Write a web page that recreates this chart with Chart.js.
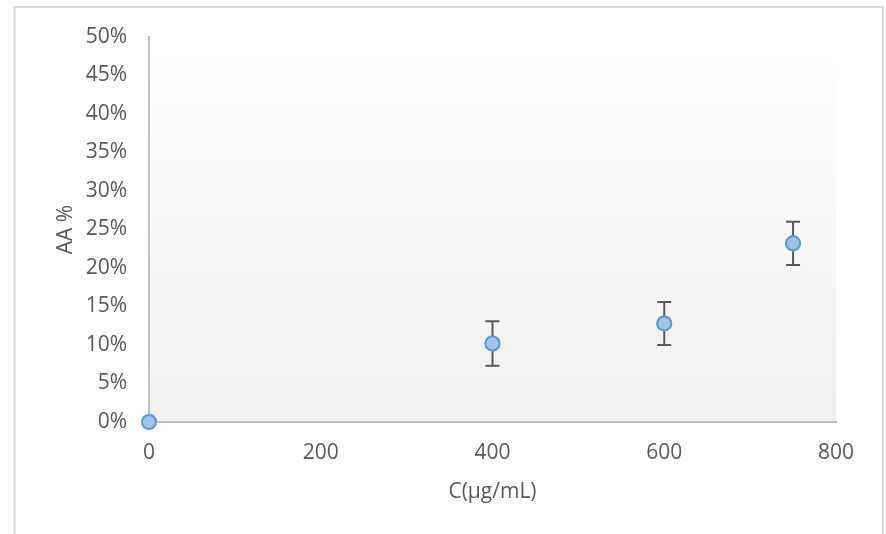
<!DOCTYPE html>
<html>
<head>
<meta charset="utf-8">
<script src="https://cdn.jsdelivr.net/npm/chart.js@4"></script>
<style>
  html, body { margin: 0; padding: 0; background: #fff; }
  #wrap { width: 886px; height: 534px; }
</style>
</head>
<body>
<div id="wrap"><canvas id="aa-chart" width="886" height="534"></canvas></div>
<script>
const concentrations = [0, 400, 600, 750];
const aaValues = [0, 0.102, 0.128, 0.232];
const aaErrors = [0, 0.029, 0.028, 0.028];
const yTicks = [0, 0.05, 0.1, 0.15, 0.2, 0.25, 0.3, 0.35, 0.4, 0.45, 0.5];
const xTicks = [0, 200, 400, 600, 800];

Chart.defaults.font.family = "'Open Sans', sans-serif";
Chart.defaults.font.size = 21;
Chart.defaults.color = "#595959";

// frame + plot-area gradient
const backdrop = {
  id: "backdrop",
  beforeDraw(chart) {
    const { ctx, chartArea: a } = chart;
    ctx.save();
    ctx.strokeStyle = "#d9d9d9";
    ctx.lineWidth = 2;
    ctx.strokeRect(14.5, 7, 868.5, 560);
    const g = ctx.createLinearGradient(0, a.top, 0, a.bottom);
    g.addColorStop(0, "#ffffff");
    g.addColorStop(1, "#f0f0f0");
    ctx.fillStyle = g;
    ctx.fillRect(a.left, a.top, a.right - a.left, a.bottom - a.top);
    ctx.restore();
  },
};

// vertical error bars with caps
const errorBars = {
  id: "errorBars",
  afterDatasetsDraw(chart) {
    const { ctx, scales } = chart;
    ctx.save();
    ctx.strokeStyle = "#595959";
    ctx.lineWidth = 2;
    concentrations.forEach((c, i) => {
      if (!aaErrors[i]) return;
      const x = scales.x.getPixelForValue(c);
      const y1 = scales.y.getPixelForValue(aaValues[i] + aaErrors[i]);
      const y2 = scales.y.getPixelForValue(aaValues[i] - aaErrors[i]);
      ctx.beginPath();
      ctx.moveTo(x, y1);
      ctx.lineTo(x, y2);
      ctx.moveTo(x - 7, y1);
      ctx.lineTo(x + 7, y1);
      ctx.moveTo(x - 7, y2);
      ctx.lineTo(x + 7, y2);
      ctx.stroke();
    });
    ctx.restore();
    // redraw points on top of bars
    chart.getDatasetMeta(0).controller.draw();
  },
};

let config = {
  type: "scatter",
  data: {
    datasets: [
      {
        label: "AA %",
        data: concentrations.map((c, i) => ({ x: c, y: aaValues[i] })),
        backgroundColor: "#a4c3e8",
        borderColor: "#5b9bd5",
        borderWidth: 2,
        pointRadius: 7,
        pointHoverRadius: 7,
      },
    ],
  },
  options: {
    responsive: false,
    animation: false,
    layout: {
      padding: { left: 0, top: 37, right: 50, bottom: 0 },
    },
    scales: {
      x: {
        type: "linear",
        min: 0,
        max: 800,
        afterBuildTicks: (scale) => {
          scale.ticks = xTicks.map((v) => ({ value: v }));
        },
        afterFit: (scale) => {
          scale.height = 112;
        },
        grid: { display: false, drawTicks: false },
        border: { display: true, color: "#bfbfbf", width: 2 },
        ticks: { padding: 18, maxRotation: 0 },
        title: {
          display: true,
          text: "C(µg/mL)",
          color: "#595959",
          font: { size: 21 },
          padding: { top: 0, bottom: 29 },
        },
      },
      y: {
        type: "linear",
        min: 0,
        max: 0.5,
        afterBuildTicks: (scale) => {
          scale.ticks = yTicks.map((v) => ({ value: v }));
        },
        afterFit: (scale) => {
          scale.width = 149;
        },
        grid: { display: false, drawTicks: false },
        border: { display: true, color: "#bfbfbf", width: 2 },
        ticks: {
          padding: 22,
          callback: function (value) {
            return Math.round(value * 100) + "%";
          },
        },
        title: {
          display: true,
          text: "AA %",
          color: "#595959",
          font: { size: 21 },
          padding: { top: 53, bottom: 0 },
        },
      },
    },
    plugins: {
      legend: { display: false },
      tooltip: { enabled: false },
    },
  },
};
const aaChart = new Chart(document.getElementById("aa-chart"), {
  ...config,
  plugins: [backdrop, errorBars],
});
</script>
</body>
</html>
